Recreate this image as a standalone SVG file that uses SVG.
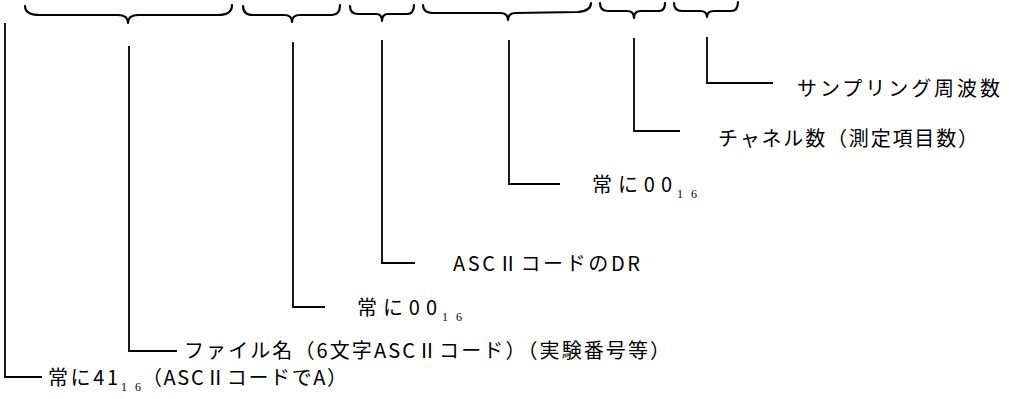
<svg xmlns="http://www.w3.org/2000/svg" width="1009" height="399" viewBox="0 0 1009 399">
<style>
.ln{fill:none;stroke:#000;stroke-width:1.8}
.br{fill:none;stroke:#000;stroke-width:2.2;stroke-linecap:round;stroke-linejoin:round}
.t{font-family:"Noto Sans CJK JP","Liberation Serif",serif;font-size:20px;fill:#000}
.s{font-family:"Liberation Serif","Noto Sans CJK JP",serif;font-size:12px;fill:#000}
</style>
<rect width="1009" height="399" fill="#fff"/>
<g id="braces">
<path class="br" d="M25,6 Q25,15 40,15 L118,15 Q128,15 128,23 Q128,15 138,15 L218,15 Q232,15 232,5"/>
<path class="br" d="M243,6 Q243,15 253,15 L284,15 Q292,15 292,22 Q292,15 300,15 L332,15 Q340,15 340,5"/>
<path class="br" d="M350,6 Q350,14 358,14 L376,14 Q382,14 382,21 Q382,14 388,14 L407,14 Q414,14 414,5"/>
<path class="br" d="M423,5 Q423,13 433,13 L500,13 Q508,13 508,20 Q508,13 516,13 L578,12 Q591,11 591,3"/>
<path class="br" d="M600,3 Q600,11 608,11 L627,11 Q634,11 634,18 Q634,11 641,11 L659,11 Q665,11 665,3"/>
<path class="br" d="M674,3 Q674,11 682,11 L700,11 Q707,11 707,17 Q707,11 714,11 L731,11 Q738,11 738,2"/>
</g>
<g id="connectors">
<path class="ln" d="M5,23 V377 H42"/>
<path class="ln" d="M129,46 V351 H177"/>
<path class="ln" d="M293,42 V307 H325"/>
<path class="ln" d="M382,40 V263 H415"/>
<path class="ln" d="M509,40 V184 H560"/>
<path class="ln" d="M634,38 V131 H680"/>
<path class="ln" d="M707,37 V83 H773"/>
</g>
<g id="n-sampling"><text class="t" x="797" y="96" textLength="203" lengthAdjust="spacing">サンプリング周波数</text></g>
<g id="n-channel"><text class="t" x="718" y="146" textLength="260" lengthAdjust="spacing">チャネル数（測定項目数）</text></g>
<g id="n-00a"><text class="t" x="592" y="192" textLength="80" lengthAdjust="spacing">常に00</text><text class="s" x="677" y="198" textLength="20" lengthAdjust="spacing">16</text></g>
<g id="n-dr"><text class="t" x="453" y="271" textLength="187" lengthAdjust="spacing">ASCⅡコードのDR</text></g>
<g id="n-00b"><text class="t" x="357" y="315" textLength="80" lengthAdjust="spacing">常に00</text><text class="s" x="442" y="321" textLength="20" lengthAdjust="spacing">16</text></g>
<g id="n-file"><text class="t" x="184" y="358" textLength="486" lengthAdjust="spacing">ファイル名（6文字ASCⅡコード）（実験番号等）</text></g>
<g id="n-41"><text class="t" x="48" y="385" textLength="70" lengthAdjust="spacing">常に41</text><text class="s" x="121" y="391" textLength="20" lengthAdjust="spacing">16</text><text class="t" x="142" y="385" textLength="205" lengthAdjust="spacing">（ASCⅡコードでA）</text></g>
</svg>
